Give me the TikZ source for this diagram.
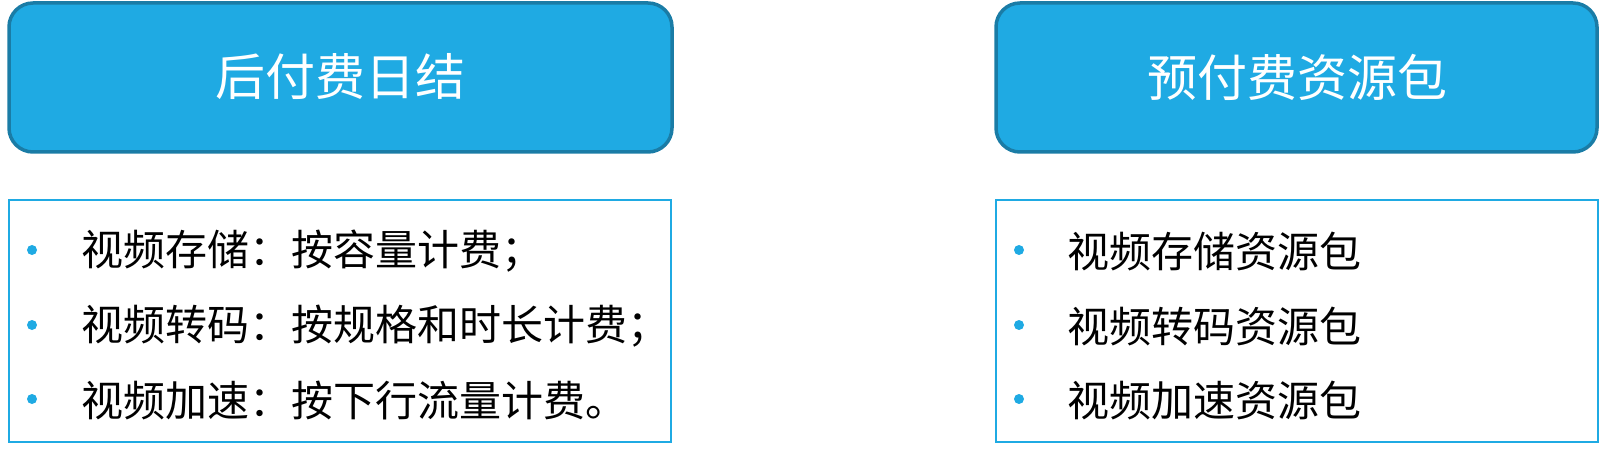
\documentclass[tikz,border=0pt]{standalone}
\usepackage{fontspec}
\setmainfont{Noto Sans CJK SC}
\definecolor{headfill}{RGB}{31,170,227}
\definecolor{headline}{RGB}{26,124,166}
\definecolor{boxline}{RGB}{31,170,227}
\definecolor{bulletc}{RGB}{31,170,227}
\tikzset{
  headbox/.style={draw=headline, fill=headfill, line width=3.5pt, rounded corners=24pt},
  listbox/.style={draw=boxline, line width=1.6pt},
  headtext/.style={text=white, inner sep=0pt, font=\fontsize{50}{60}\selectfont},
  itemtext/.style={text=black, inner sep=0pt, anchor=west, font=\fontsize{42}{48}\selectfont},
  bulletdot/.style={circle, fill=bulletc, inner sep=0pt, minimum size=10pt}
}
\begin{document}
\begin{tikzpicture}[x=1pt,y=-1pt]
\useasboundingbox (0,0) rectangle (1601,449);
% header boxes
\draw[headbox] (9,3) rectangle (672,152);
\draw[headbox] (996,3) rectangle (1597,152);
\node[headtext] (h1) at (340,77) {后付费日结};
\node[headtext] (h2) at (1297,77) {预付费资源包};
% list boxes
\draw[listbox] (9,200) rectangle (671,442);
\draw[listbox] (996,200) rectangle (1598,442);
% left items
\node[bulletdot] (b1) at (32,250) {};
\node[bulletdot] (b2) at (32,325) {};
\node[bulletdot] (b3) at (32,399) {};
\node[itemtext] (t1) at (81,251) {视频存储：按容量计费；};
\node[itemtext] (t2) at (81,326) {视频转码：按规格和时长计费；};
\node[itemtext] (t3) at (81,400) {视频加速：按下行流量计费。};
% right items
\node[bulletdot] (c1) at (1019,250) {};
\node[bulletdot] (c2) at (1019,325) {};
\node[bulletdot] (c3) at (1019,399) {};
\node[itemtext] (u1) at (1067,251) {视频存储资源包};
\node[itemtext] (u2) at (1067,326) {视频转码资源包};
\node[itemtext] (u3) at (1067,400) {视频加速资源包};
\end{tikzpicture}
\end{document}
